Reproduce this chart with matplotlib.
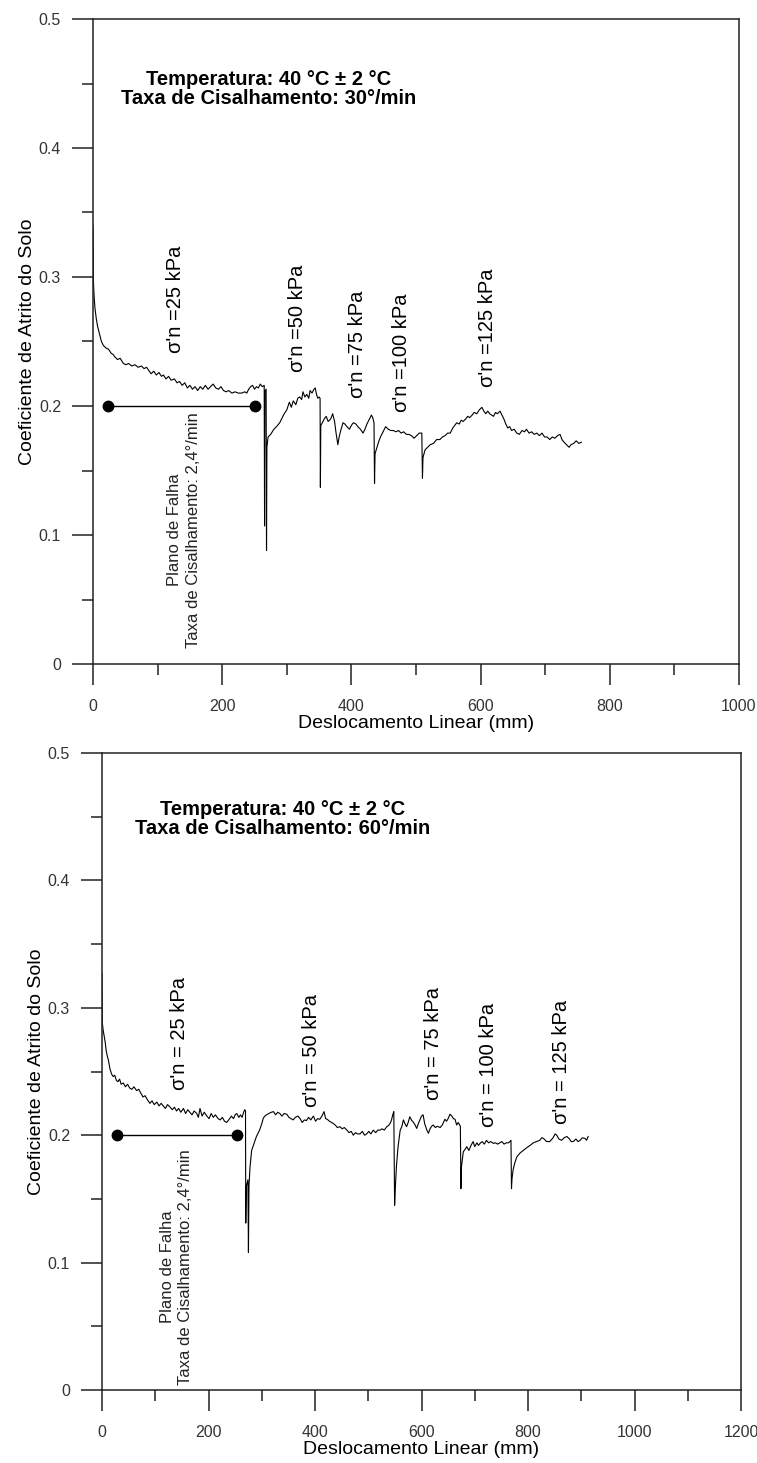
import matplotlib
matplotlib.use("Agg")
import matplotlib.pyplot as plt
from matplotlib.ticker import MultipleLocator, FuncFormatter
from matplotlib import font_manager

plt.rcParams['font.family'] = ['Liberation Sans', 'DejaVu Sans']

# ---------------- data: 30°/min ----------------
x30 = [0, 0.3, 0.6, 1.0, 2, 3, 5, 7, 10, 13, 16, 20, 24, 28, 31, 34, 38, 42, 47, 51, 55, 60, 65, 70, 75, 79,
       83, 87, 90, 94, 98, 102, 106, 109, 113, 117, 121, 126, 130, 134, 138, 142, 146, 150, 154, 158, 162,
       166, 170, 174, 178, 182, 186, 190, 194, 198, 202, 206, 210, 215, 220, 225, 230, 235, 238, 241, 244,
       247, 250, 253, 256, 259, 262, 265,
       265.6, 266.2, 268.0, 268.6, 269.2, 271,
       275, 280, 284, 289, 293, 296, 300, 304, 307, 310, 314, 317, 320, 323, 325, 328, 331, 334, 336, 339,
       342, 344, 346, 348, 350, 351.5, 352, 352.6,
       355, 358, 361, 364, 368, 371, 374, 376, 379, 381, 384, 387, 390, 393, 397, 400, 403, 407, 410, 414,
       418, 421, 424, 428, 431, 433, 435, 435.8, 436.6,
       439, 442, 445, 449, 453, 457, 461, 465, 469, 473, 477, 481, 485, 489, 493, 497, 501, 505, 509, 510,
       510.8,
       514, 518, 522, 527, 532, 537, 541, 545, 549, 553, 557, 560, 563, 567, 570, 573, 577, 580, 583, 587,
       590, 594, 598, 602, 605, 608, 611, 614, 617, 620, 623, 626, 630, 633, 636, 639, 642, 645, 648, 652,
       656, 660, 664, 668, 671, 675, 679, 683, 687, 691, 695, 699, 703, 707, 711, 715, 719, 723, 726, 729,
       733, 737, 740, 744, 748, 752, 756]
y30 = [0.340, 0.330, 0.300, 0.292, 0.283, 0.276, 0.268, 0.262, 0.256, 0.250, 0.247, 0.245, 0.244, 0.241,
       0.240, 0.238, 0.236, 0.237, 0.233, 0.232, 0.233, 0.231, 0.232, 0.230, 0.231, 0.229, 0.230, 0.227,
       0.225, 0.227, 0.224, 0.226, 0.223, 0.224, 0.221, 0.223, 0.220, 0.221, 0.218, 0.219, 0.216, 0.218,
       0.214, 0.216, 0.213, 0.215, 0.212, 0.215, 0.213, 0.216, 0.213, 0.215, 0.217, 0.214, 0.213, 0.215,
       0.212, 0.211, 0.212, 0.210, 0.211, 0.210, 0.210, 0.211, 0.210, 0.213, 0.215, 0.216, 0.213, 0.215,
       0.214, 0.217, 0.215, 0.216,
       0.107, 0.212, 0.213, 0.088, 0.168, 0.176,
       0.178, 0.182, 0.184, 0.187, 0.191, 0.194, 0.197, 0.203, 0.199, 0.204, 0.201, 0.206, 0.207, 0.205,
       0.211, 0.207, 0.209, 0.206, 0.212, 0.210, 0.213, 0.214, 0.209, 0.206, 0.207, 0.206, 0.137, 0.185,
       0.187, 0.190, 0.192, 0.188, 0.190, 0.194, 0.188, 0.180, 0.170, 0.176, 0.182, 0.187, 0.186, 0.184,
       0.182, 0.185, 0.187, 0.186, 0.184, 0.182, 0.179, 0.182, 0.186, 0.190, 0.193, 0.191, 0.187, 0.140,
       0.163,
       0.167, 0.172, 0.176, 0.180, 0.184, 0.182, 0.181, 0.181, 0.180, 0.181, 0.179, 0.180, 0.178, 0.178,
       0.177, 0.175, 0.177, 0.179, 0.179, 0.144, 0.160,
       0.166, 0.168, 0.170, 0.171, 0.174, 0.174, 0.176, 0.177, 0.179, 0.179, 0.183, 0.185, 0.187, 0.186,
       0.189, 0.188, 0.190, 0.192, 0.191, 0.193, 0.195, 0.194, 0.197, 0.199, 0.196, 0.194, 0.196, 0.194,
       0.193, 0.192, 0.195, 0.194, 0.196, 0.193, 0.190, 0.186, 0.183, 0.184, 0.181, 0.182, 0.179, 0.178,
       0.181, 0.180, 0.182, 0.179, 0.180, 0.178, 0.179, 0.177, 0.179, 0.176, 0.176, 0.174, 0.176, 0.175,
       0.177, 0.178, 0.174, 0.172, 0.170, 0.168, 0.170, 0.171, 0.173, 0.171, 0.172]

# ---------------- data: 60°/min ----------------
x60 = [0, 0.3, 0.7, 2, 4, 6, 8, 10, 12, 15, 18, 21, 24, 27, 30, 33, 36, 40, 44, 48, 52, 56, 60, 65, 69, 73,
       77, 81, 85, 90, 94, 98, 103, 107, 111, 115, 119, 123, 128, 132, 136, 140, 144, 148, 153, 157, 161,
       165, 169, 173, 178, 181, 184, 188, 192, 197, 201, 205, 209, 213, 218, 222, 226, 230, 234, 238, 243,
       247, 250, 253, 257, 260, 263, 266, 268, 269.5,
       270, 271, 274, 275, 276, 278,
       281, 285, 290, 296, 300, 303, 306, 309, 313, 318, 322, 326, 330, 334, 338, 342, 347, 351, 355, 359,
       363, 368, 372, 376, 380, 384, 388, 392, 397, 401, 405, 409, 413, 417, 420, 423, 427, 431, 434, 438,
       442, 447, 451, 455, 460, 464, 468, 472, 476, 480, 484.5, 489, 493, 497, 501, 505, 509.5, 514, 518,
       522, 526, 530, 535, 539, 542, 544, 546, 548,
       549.5, 551, 553, 555, 556, 560, 563, 566, 569, 572, 575, 578, 581, 585, 588, 591, 594, 597, 600,
       603, 606, 610, 613, 616, 619, 622, 626, 630, 635, 639, 644, 647, 650, 653.5, 657, 660, 663, 666,
       669, 673,
       674, 675, 678.5, 682, 685, 689, 693, 697, 700, 704, 707, 710, 714, 718, 722, 726, 730, 735, 739, 743,
       747, 751, 755, 759, 763, 766, 768,
       769, 770, 772, 775, 779, 785, 791, 797, 804, 810, 816, 822, 826, 829, 835, 841, 847, 851, 854, 858,
       863, 868, 873, 878, 881, 885, 890, 894, 898, 902, 907, 910, 913]
y60 = [0.327, 0.310, 0.288, 0.283, 0.278, 0.273, 0.266, 0.262, 0.259, 0.252, 0.248, 0.246, 0.247, 0.243,
       0.242, 0.244, 0.240, 0.241, 0.238, 0.240, 0.237, 0.236, 0.238, 0.235, 0.236, 0.233, 0.230, 0.231,
       0.228, 0.225, 0.227, 0.224, 0.226, 0.223, 0.225, 0.223, 0.221, 0.224, 0.222, 0.220, 0.222, 0.219,
       0.221, 0.218, 0.221, 0.217, 0.220, 0.218, 0.216, 0.219, 0.217, 0.214, 0.221, 0.215, 0.218, 0.215,
       0.213, 0.217, 0.214, 0.216, 0.213, 0.212, 0.214, 0.211, 0.210, 0.212, 0.215, 0.213, 0.216, 0.217,
       0.214, 0.216, 0.214, 0.218, 0.220, 0.219,
       0.131, 0.160, 0.165, 0.108, 0.160, 0.175,
       0.188, 0.193, 0.199, 0.204, 0.209, 0.2135, 0.215, 0.216, 0.217, 0.218, 0.2185, 0.216, 0.218, 0.217,
       0.215, 0.217, 0.2165, 0.214, 0.213, 0.212, 0.214, 0.215, 0.213, 0.210, 0.212, 0.2115, 0.214, 0.212,
       0.215, 0.211, 0.213, 0.2125, 0.215, 0.2185, 0.213, 0.2125, 0.211, 0.210, 0.2093, 0.208, 0.206,
       0.2067, 0.205, 0.206, 0.204, 0.202, 0.203, 0.200, 0.202, 0.201, 0.201, 0.203, 0.200, 0.201, 0.203,
       0.201, 0.204, 0.202, 0.204, 0.204, 0.205, 0.204, 0.2067, 0.208, 0.210, 0.2125, 0.216, 0.2185,
       0.145, 0.160, 0.176, 0.186, 0.191, 0.204, 0.2067, 0.212, 0.209, 0.2067, 0.210, 0.2145, 0.212, 0.210,
       0.208, 0.2053, 0.209, 0.212, 0.215, 0.216, 0.209, 0.204, 0.2015, 0.205, 0.207, 0.208, 0.206, 0.207,
       0.206, 0.208, 0.2125, 0.211, 0.213, 0.2165, 0.215, 0.213, 0.2125, 0.208, 0.210, 0.207,
       0.158, 0.175, 0.187, 0.189, 0.191, 0.188, 0.192, 0.195, 0.191, 0.194, 0.192, 0.1936, 0.195, 0.193,
       0.196, 0.194, 0.195, 0.1936, 0.194, 0.193, 0.194, 0.195, 0.193, 0.194, 0.194, 0.195, 0.196,
       0.158, 0.166, 0.1727, 0.178, 0.183, 0.186, 0.188, 0.190, 0.192, 0.194, 0.195, 0.196, 0.198, 0.1975,
       0.195, 0.195, 0.198, 0.201, 0.200, 0.197, 0.196, 0.198, 0.199, 0.197, 0.195, 0.195, 0.197, 0.195,
       0.196, 0.198, 0.1975, 0.196, 0.199]

# ---------------- annotations ----------------
titles = ["Temperatura: 40 °C ± 2 °C\nTaxa de Cisalhamento: 30°/min",
          "Temperatura: 40 °C ± 2 °C\nTaxa de Cisalhamento: 60°/min"]
title_xy = [(272, 0.446), (340, 0.448)]

labels30 = ["σ'n =25 kPa", "σ'n =50 kPa", "σ'n =75 kPa", "σ'n =100 kPa", "σ'n =125 kPa"]
labels30_x = [127, 317, 409, 478, 610]
labels30_y = [0.241, 0.226, 0.206, 0.195, 0.215]

labels60 = ["σ'n = 25 kPa", "σ'n = 50 kPa", "σ'n = 75 kPa", "σ'n = 100 kPa", "σ'n = 125 kPa"]
labels60_x = [146, 394, 622, 725, 863]
labels60_y = [0.2355, 0.2224, 0.2276, 0.2067, 0.209]

plane_x = [[23, 251], [28, 254]]
plane_y = [0.2, 0.2]
plane_text = "Plano de Falha\nTaxa de Cisalhamento: 2,4°/min"
plane_text_xy = [(141, 0.104), (140, 0.0965)]

# narrow font for tick labels if available
_names = {f.name for f in font_manager.fontManager.ttflist}
tick_family = ['Liberation Sans Narrow'] if 'Liberation Sans Narrow' in _names else ['Liberation Sans']

fig = plt.figure(figsize=(7.57, 14.63), dpi=100)
W, H = 757.0, 1463.0
ax1 = fig.add_axes([93 / W, 1 - 664 / H, (739 - 93) / W, (664 - 19) / H])
ax2 = fig.add_axes([102 / W, 1 - 1390 / H, (741 - 102) / W, (1390 - 753) / H])


def yfmt(v, pos):
    return "0" if abs(v) < 1e-9 else f"{v:.1f}"


def style(ax, xm):
    ax.set_xlim(0, xm)
    ax.set_ylim(0, 0.5)
    ax.xaxis.set_major_locator(MultipleLocator(200))
    ax.xaxis.set_minor_locator(MultipleLocator(100))
    ax.yaxis.set_major_locator(MultipleLocator(0.1))
    ax.yaxis.set_minor_locator(MultipleLocator(0.05))
    ax.yaxis.set_major_formatter(FuncFormatter(yfmt))
    ax.xaxis.set_major_formatter(FuncFormatter(lambda v, p: f"{int(round(v))}"))
    ax.tick_params(axis='both', which='both', direction='out', colors='#222222', width=1.1)
    ax.tick_params(axis='both', which='major', length=15, labelsize=11.5, labelcolor='#333333')
    ax.tick_params(axis='both', which='minor', length=8)
    ax.tick_params(axis='x', which='major', pad=10)
    ax.tick_params(axis='y', which='major', pad=8)
    ax.tick_params(top=False, right=False)
    for lab in ax.get_xticklabels() + ax.get_yticklabels():
        lab.set_family(tick_family)
    for s in ax.spines.values():
        s.set_linewidth(1.1)
        s.set_color('#222222')
    ax.set_xlabel("Deslocamento Linear (mm)", fontsize=14, labelpad=1)
    ax.set_ylabel("Coeficiente de Atrito do Solo", fontsize=14, labelpad=2)


for ax, xm in [(ax1, 1000), (ax2, 1200)]:
    style(ax, xm)

ax1.plot(x30, y30, color='black', lw=0.8)
ax2.plot(x60, y60, color='black', lw=0.8)

for ax, (tx, ty), t in zip([ax1, ax2], title_xy, titles):
    ax.text(tx, ty, t, fontsize=14.5, fontweight='bold', ha='center', va='center',
            multialignment='center', linespacing=0.98)

for t, x, y in zip(labels30, labels30_x, labels30_y):
    ax1.text(x, y, t, rotation=90, fontsize=14.5, ha='center', va='bottom')
for t, x, y in zip(labels60, labels60_x, labels60_y):
    ax2.text(x, y, t, rotation=90, fontsize=14.5, ha='center', va='bottom')

for ax, px, (tx, ty) in zip([ax1, ax2], plane_x, plane_text_xy):
    ax.plot(px, plane_y, color='black', lw=1.0, marker='o', markersize=7.5)
    ax.text(tx, ty, plane_text, rotation=90, fontsize=12, ha='center', va='center',
            multialignment='center', linespacing=1.3, color='#222222')

fig.savefig("out.png", dpi=100)
